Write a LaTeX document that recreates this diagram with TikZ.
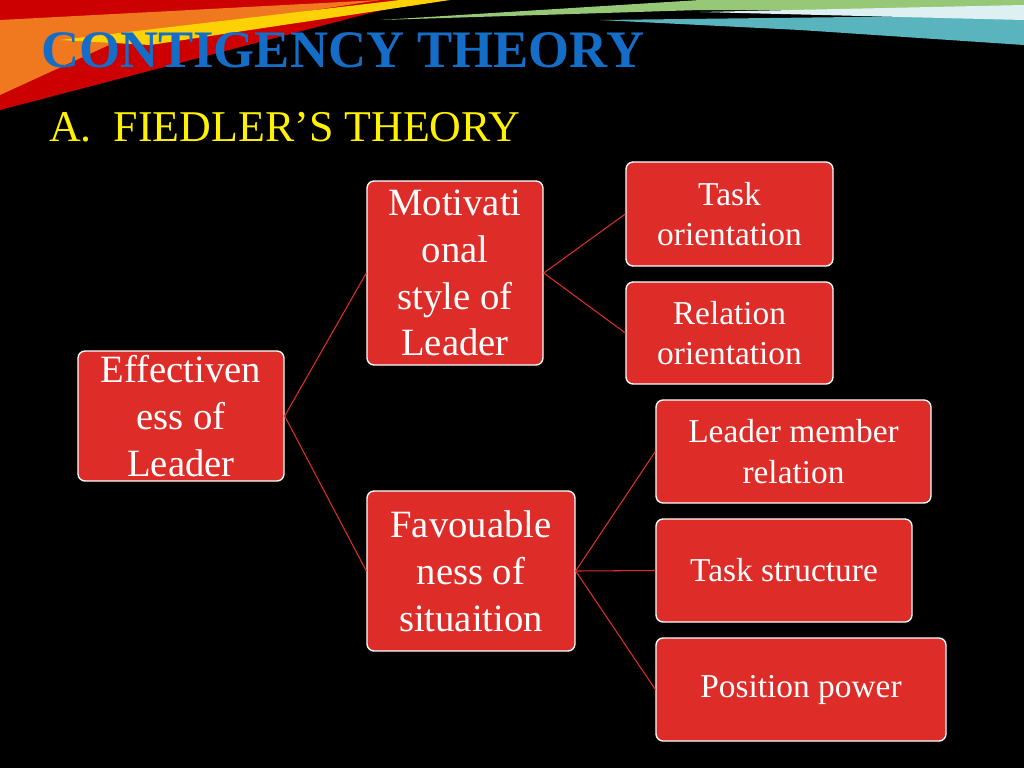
\documentclass[tikz,border=0pt]{standalone}
\usepackage{fontspec}
\setmainfont{Liberation Serif}
\usetikzlibrary{positioning}
\definecolor{boxred}{RGB}{222,44,40}
\definecolor{titleblue}{RGB}{20,110,200}
\definecolor{streakorange}{RGB}{240,120,30}
\definecolor{streakgreen}{RGB}{150,200,120}
\definecolor{streakteal}{RGB}{90,180,190}

\tikzset{
  box/.style={draw=white,fill=boxred,rounded corners=4pt,line width=0.8pt,
    text=white,align=center,inner sep=2pt},
  bigbox/.style={box,font=\fontsize{22}{26.7}\selectfont},
  smallbox/.style={box,font=\fontsize{19}{23}\selectfont},
  link/.style={draw=boxred,line width=0.6pt}
}

\begin{document}
\begin{tikzpicture}[x=0.02cm,y=-0.02cm]
\fill[black] (0,0) rectangle (1024,768);
\useasboundingbox (0,0) rectangle (1024,768);

% streaks at the top
\fill[red!80!black] (0,0) -- (420,0) -- (0,110) -- cycle;
\fill[streakorange] (0,20) -- (380,0) -- (120,40) -- (0,95) -- cycle;
\fill[yellow!70!orange] (60,40) -- (400,0) -- (450,0) -- (150,45) -- cycle;
\fill[streakgreen] (380,20) -- (700,0) -- (1024,0) -- (1024,10) -- (700,10) -- cycle;
\fill[streakteal] (600,20) -- (1024,15) -- (1024,45) -- (800,30) -- cycle;
\fill[white!80!streakteal] (700,12) -- (1024,5) -- (1024,20) -- cycle;

% titles
\node[anchor=west,text=titleblue,font=\fontsize{30}{34}\selectfont\bfseries] (title) at (35,50) {CONTIGENCY THEORY};
\node[anchor=west,text=yellow,font=\fontsize{25}{30}\selectfont] (sub) at (43,127) {A.\ \ FIEDLER’S THEORY};

% boxes
\node[bigbox,minimum width=4.12cm,minimum height=2.6cm] (eff) at (181,416) {Effectiven\\ess of\\Leader};
\node[bigbox,minimum width=3.52cm,minimum height=3.68cm] (mot) at (455,273) {Motivati\\onal\\style of\\Leader};
\node[bigbox,minimum width=4.16cm,minimum height=3.2cm] (fav) at (471,571) {Favouable\\ness of\\situaition};
\node[smallbox,minimum width=4.14cm,minimum height=2.08cm] (task) at (729.5,214) {Task\\orientation};
\node[smallbox,minimum width=4.14cm,minimum height=2.04cm] (rel) at (729.5,333) {Relation\\orientation};
\node[smallbox,minimum width=5.5cm,minimum height=2.06cm] (lmr) at (793.5,451.5) {Leader member\\relation};
\node[smallbox,minimum width=5.12cm,minimum height=2.06cm] (ts) at (784,570.5) {Task structure};
\node[smallbox,minimum width=5.8cm,minimum height=2.06cm] (pp) at (801,689.5) {Position power};

% connectors
\draw[link] (eff.east) -- (mot.west);
\draw[link] (eff.east) -- (fav.west);
\draw[link] (mot.east) -- (task.west);
\draw[link] (mot.east) -- (rel.west);
\draw[link] (fav.east) -- (lmr.west);
\draw[link] (fav.east) -- (ts.west);
\draw[link] (fav.east) -- (pp.west);
\end{tikzpicture}
\end{document}
